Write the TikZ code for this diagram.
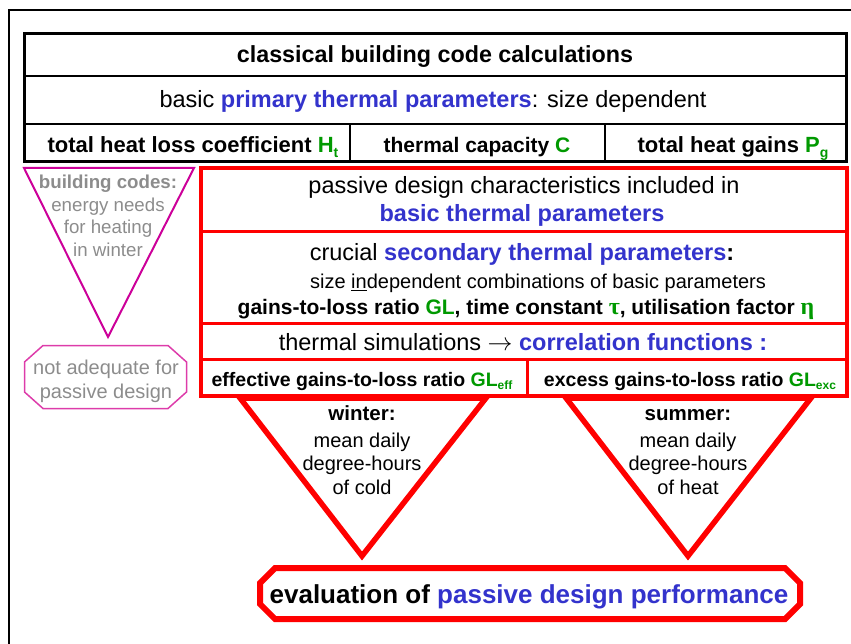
\documentclass[tikz,border=0pt]{standalone}
\usepackage{fontspec}
\setmainfont{Liberation Sans}
\newfontfamily\greekserif{Liberation Serif}
\definecolor{tblue}{RGB}{51,51,204}
\definecolor{tgreen}{RGB}{0,153,0}
\definecolor{tgrey}{RGB}{140,140,140}
\definecolor{tmag}{RGB}{204,0,153}
\definecolor{tpink}{RGB}{221,60,170}
\definecolor{tred}{RGB}{255,0,0}
\newcommand\fsz[2]{\fontsize{#1pt}{#2pt}\selectfont}
\newcommand\subx[3]{\raisebox{-#1pt}{\fontsize{#2pt}{#2pt}\selectfont #3}}
\begin{document}
\begin{tikzpicture}[x=1pt,y=-1pt,
  txt/.style={inner sep=0pt, anchor=base},
  blackline/.style={line width=3pt, black},
  blackinner/.style={line width=2.5pt, black},
  redbox/.style={line width=3.5pt, tred},
  redinner/.style={line width=3pt, tred},
  redshape/.style={line width=5.5pt, tred, line join=miter},
  magshape/.style={line width=2pt, tmag, line join=miter},
  pinkshape/.style={line width=1.5pt, tpink},
  greytxt/.style={txt, text=tgrey}]
\useasboundingbox (0,0) rectangle (851,644);
% outer frame
\draw[line width=2.5pt] (9,660) -- (9,10) -- (870,10);
% black table
\draw[blackline] (24,34) rectangle (846,162);
\draw[blackinner] (24,76) -- (846,76);
\draw[blackinner] (24,124) -- (846,124);
\draw[blackinner] (350,124) -- (350,162);
\draw[blackinner] (605,124) -- (605,162);
\node[txt] (t1) at (435,63) {\fsz{23.3}{28}\bfseries classical building code calculations};
\node[txt] (t2) at (433,108) {\fsz{23.5}{28}basic \textbf{\color{tblue}primary thermal parameters}: size dependent};
\node[txt] (t3a) at (193,152.5) {\fsz{22}{25}\bfseries total heat loss coefficient {\color{tgreen}H\subx{5}{14}{t}}};
\node[txt] (t3b) at (477,152.5) {\fsz{21}{25}\bfseries thermal capacity {\color{tgreen}C}};
\node[txt] (t3c) at (733,152.5) {\fsz{22}{25}\bfseries total heat gains {\color{tgreen}P\subx{5}{14}{g}}};
% magenta triangle
\draw[magshape] (24,168) -- (194,168) -- (108,337) -- cycle;
\node[greytxt] (m1) at (108,189) {\fsz{18.7}{22}\bfseries building codes:};
\node[greytxt] (m2) at (108,212) {\fsz{18.7}{22}energy needs};
\node[greytxt] (m3) at (108,234) {\fsz{18.7}{22}for heating};
\node[greytxt] (m4) at (108,257) {\fsz{18.7}{22}in winter};
% pink octagon
\draw[pinkshape] (43,345.5) -- (168,345.5) -- (186.5,362) -- (186.5,392) -- (168,408.5) -- (43,408.5) -- (24.5,392) -- (24.5,362) -- cycle;
\node[greytxt] (p1) at (106,374) {\fsz{20}{24}not adequate for};
\node[greytxt] (p2) at (106,398) {\fsz{20}{24}passive design};
% red box
\draw[redbox] (201,168) rectangle (847,396);
\draw[redinner] (201,232) -- (847,232);
\draw[redinner] (201,323) -- (847,323);
\draw[redinner] (201,359) -- (847,359);
\draw[redinner] (527,359) -- (527,396);
\node[txt] (r1a) at (524,194) {\fsz{23.5}{28}passive design characteristics included in};
\node[txt] (r1b) at (522,222) {\fsz{23.5}{28}\bfseries\color{tblue}basic thermal parameters};
\node[txt] (r2a) at (522,261) {\fsz{23.5}{28}crucial \textbf{\color{tblue}secondary thermal parameters}\textbf{:}};
\node[txt] (r2b) at (538,289) {\fsz{20}{24}size \underline{in}dependent combinations of basic parameters};
\node[txt] (r2c) at (526,314.5) {\fsz{21}{25}\bfseries gains-to-loss ratio {\color{tgreen}GL}, time constant {\color{tgreen}\fsz{24}{25}\greekserif τ}, utilisation factor {\color{tgreen}\fsz{24}{25}\greekserif η}};
\node[txt] (r3) at (523,350) {\fsz{23.5}{28}thermal simulations $\rightarrow$ \textbf{\color{tblue}correlation functions :}};
\node[txt] (r4a) at (362,386) {\fsz{19.5}{23}\bfseries effective gains-to-loss ratio {\color{tgreen}GL\subx{3}{12}{eff}}};
\node[txt] (r4b) at (690,386) {\fsz{19.5}{23}\bfseries excess gains-to-loss ratio {\color{tgreen}GL\subx{3}{12}{exc}}};
% red triangles
\draw[redshape] (240,398) -- (486,398) -- (362,556) -- cycle;
\draw[redshape] (566,398) -- (811,398) -- (688,556) -- cycle;
\node[txt] (w1) at (362,420) {\fsz{20.5}{24}\bfseries winter:};
\node[txt] (w2) at (362,447) {\fsz{20}{24}mean daily};
\node[txt] (w3) at (362,470) {\fsz{20}{24}degree-hours};
\node[txt] (w4) at (362,494) {\fsz{20}{24}of cold};
\node[txt] (s1) at (688,420) {\fsz{20.5}{24}\bfseries summer:};
\node[txt] (s2) at (688,447) {\fsz{20}{24}mean daily};
\node[txt] (s3) at (688,470) {\fsz{20}{24}degree-hours};
\node[txt] (s4) at (688,494) {\fsz{20}{24}of heat};
% bottom octagon
\draw[line width=6pt, tred] (275,568) -- (785,568) -- (800,583) -- (800,604) -- (785,619) -- (275,619) -- (260,604) -- (260,583) -- cycle;
\node[txt] (ev) at (529,603) {\fsz{26}{30}\bfseries evaluation of {\color{tblue}passive design performance}};
\end{tikzpicture}
\end{document}
